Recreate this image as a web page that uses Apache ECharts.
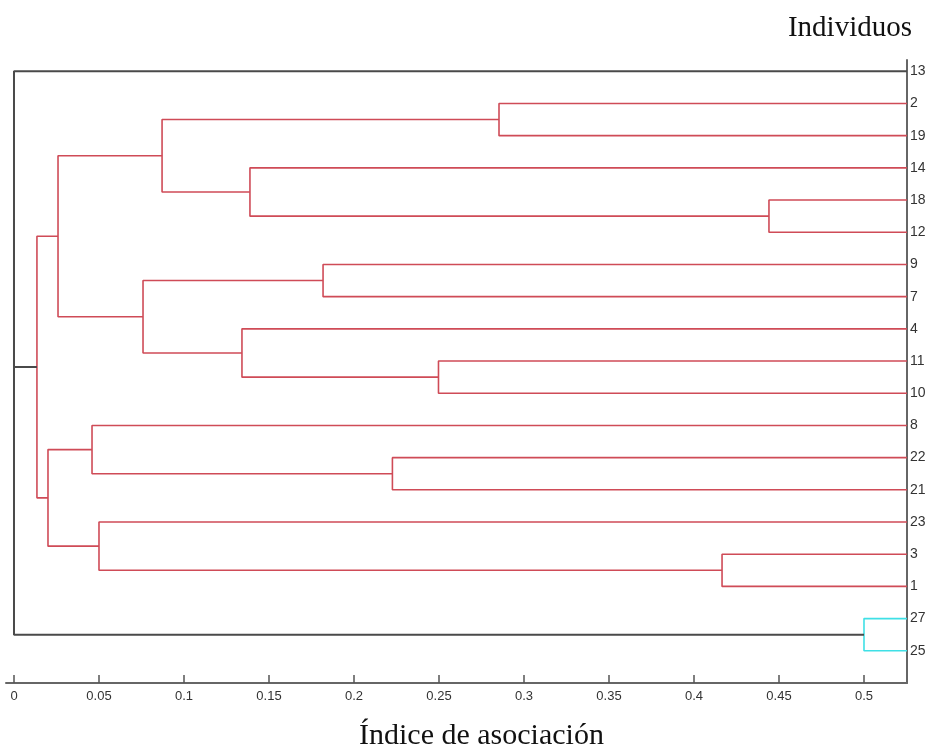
<!DOCTYPE html>
<html>
<head>
<meta charset="utf-8">
<script src="https://cdn.jsdelivr.net/npm/echarts@6/dist/echarts.min.js"></script>
<style>html,body{margin:0;padding:0;background:#fff;}#c{width:930px;height:750px;}</style>
</head>
<body>
<div id="c"></div>
<script>
// ---- data ----
const leafNames = ['13','2','19','14','18','12','9','7','4','11','10','8','22','21','23','3','1','27','25'];
const leafValue = 0.5253;
const mergeA = ['2','18','14','m0','9','11','4','m4','m3','22','8','3','23','m10','m8','27','13','m16'];
const mergeB = ['19','12','m1','m2','7','10','m5','m6','m7','21','m9','1','m11','m12','m13','25','m14','m15'];
const mergeHeight = [0.2853,0.4441,0.1388,0.0871,0.1818,0.2497,0.1341,0.0759,0.0259,0.2226,0.0459,0.4165,0.0500,0.0200,0.0135,0.5000,0,0];
const mergeGroup = ['r','r','r','r','r','r','r','r','r','r','r','r','r','r','r','c','k','k'];
const xTicks = [0,0.05,0.1,0.15,0.2,0.25,0.3,0.35,0.4,0.45,0.5];
const xTickLabels = ['0','0.05','0.1','0.15','0.2','0.25','0.3','0.35','0.4','0.45','0.5'];

// ---- styles ----
const groupColor = {r:'#cf4b57', c:'#3fe0e6', k:'#4a4a4a'};
const groupWidth = {r:1.6, c:1.6, k:2};

// ---- build tree geometry ----
const nodePos = {};
function pos(id){
  if (id[0] === 'm') return nodePos[id];
  return {x: leafValue, y: leafNames.indexOf(id)};
}
const series = [];
for (let k = 0; k < mergeA.length; k++){
  const a = pos(mergeA[k]), b = pos(mergeB[k]), h = mergeHeight[k];
  nodePos['m'+k] = {x: h, y: (a.y + b.y)/2};
  const g = mergeGroup[k];
  series.push({
    type:'line', silent:true, symbol:'none', animation:false,
    lineStyle:{color:groupColor[g], width:groupWidth[g]},
    data:[[a.x,a.y],[h,a.y],[h,b.y],[b.x,b.y]]
  });
}

const chart = echarts.init(document.getElementById('c'), null, {renderer:'canvas'});
const sans = '"Liberation Sans Narrow","Arial Narrow","Liberation Sans",Arial,sans-serif';
const serif = '"Liberation Serif","Times New Roman",serif';
chart.setOption({
  animation:false,
  backgroundColor:'#fff',
  title:[
    {text:'Individuos', right:13, top:9, textStyle:{fontFamily:serif, fontWeight:'normal', fontSize:29, color:'#111'}},
    {text:'Índice de asociación', left:354, top:716, textStyle:{fontFamily:serif, fontWeight:'normal', fontSize:30, color:'#111'}}
  ],
  grid:{left:6, right:23, top:60, bottom:67, containLabel:false},
  xAxis:{
    type:'value', min:-0.0047, max:0.5253, position:'bottom',
    splitLine:{show:false},
    axisLine:{show:true, onZero:false, lineStyle:{color:'#666', width:2}},
    axisTick:{show:true, inside:true, length:8, customValues:xTicks, lineStyle:{color:'#555', width:1.5}},
    axisLabel:{show:true, customValues:xTicks, margin:7, fontFamily:sans, fontSize:13, color:'#333',
      formatter:function(v){ const i = xTicks.findIndex(t=>Math.abs(t-v)<1e-9); return i>=0 ? xTickLabels[i] : ''; }}
  },
  yAxis:{
    type:'value', inverse:true, min:-0.35, max:19, position:'right',
    splitLine:{show:false},
    axisLine:{show:true, onZero:false, lineStyle:{color:'#666', width:2}},
    axisTick:{show:false},
    axisLabel:{show:true, customValues:leafNames.map((n,i)=>i), margin:3, fontFamily:sans, fontSize:14, color:'#333',
      formatter:function(v){ return leafNames[Math.round(v)]; }}
  },
  series:series
});
</script>
</body>
</html>
